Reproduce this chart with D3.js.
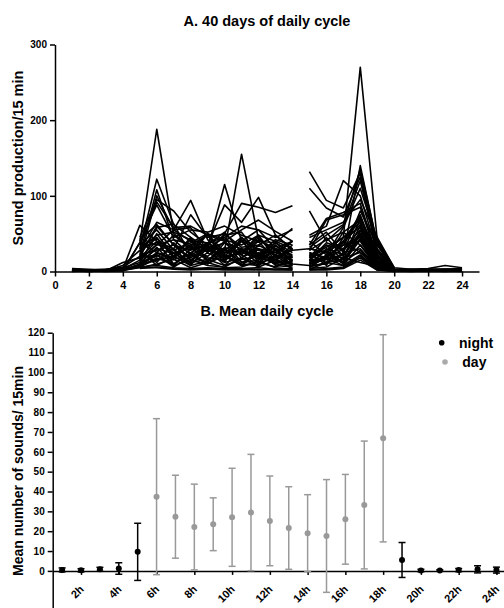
<!DOCTYPE html>
<html>
<head>
<meta charset="utf-8">
<script src="https://cdn.jsdelivr.net/npm/d3@7.9.0/dist/d3.min.js"></script>
<style>
  body { margin: 0; background: #fff; }
  svg { display: block; font-family: "Liberation Sans", Arial, sans-serif; }
  .axis path, .axis line { stroke: #000; stroke-width: 1.5px; }
  .axis text { font-weight: bold; fill: #000; }
  .title, .ylabel, .legend text { font-weight: bold; fill: #000; }
</style>
</head>
<body>
<svg id="chart" width="504" height="608"></svg>
<script>
const _ = null;

// Panel A: sounds per 15 min, one row per recorded day, hours 1..24
const hours = d3.range(1, 25);
const dailyCounts = [
  [3, 2, 2, 1, 38, 188, 50, 32, 28, 20, 25, 18, 12, 10, 14, 20, 35, 72, 20, 3, 2, 2, 3, 4],
  [_, _, _, _, 30, 122, 62, 45, 30, 38, 30, 28, 22, 15, 22, 28, 45, 270, 42, 5, _, _, _, _],
  [_, _, _, _, 22, 108, 42, 36, 30, 115, 40, 30, 25, 18, 12, 16, 22, 140, 35, 4, _, _, _, _],
  [1, 1, 2, 3, 15, 100, 55, 94, 42, 28, 155, 42, 30, 22, 32, 48, 62, 135, 38, 2, 2, 3, 3, 2],
  [_, _, _, _, 45, 95, 80, 52, 35, 88, 65, 98, 48, 30, 132, 94, 84, 130, 28, 3, _, _, _, _],
  [2, 1, 1, 3, 61, 40, 30, 75, 45, 50, 90, 85, 78, 87, 110, 84, 72, 125, 22, 2, 1, 1, 2, 2],
  [_, _, _, _, 35, 92, 58, 60, 48, 40, 55, 68, 53, 40, 80, 40, 60, 120, 30, 4, _, _, _, _],
  [_, _, _, _, 40, 88, 45, 55, 52, 60, 48, 40, 38, 57, 48, 60, 120, 100, 25, 3, _, _, _, _],
  [4, 3, 2, 8, 28, 65, 55, 40, 38, 45, 60, 55, 45, 55, 35, 70, 78, 90, 20, 2, 3, 4, 8, 5],
  [_, _, _, _, 42, 62, 35, 28, 50, 42, 35, 48, 40, 30, 28, 68, 75, 85, 18, 1, _, _, _, _],
  [_, _, _, _, 20, 58, 63, 22, 50, 15, 40, 18, 38, 25, 30, 25, 40, 75, 15, 5, _, _, _, _],
  [1, 0, 1, 5, 12, 50, 20, 45, 12, 38, 22, 40, 15, 35, 20, 35, 15, 70, 12, 2, 1, 2, 2, 1],
  [_, _, _, _, 33, 45, 18, 35, 48, 20, 42, 12, 30, 12, 25, 8, 45, 65, 10, 3, _, _, _, _],
  [_, _, _, _, 25, 12, 38, 15, 30, 45, 18, 35, 22, 40, 18, 45, 20, 60, 14, 2, _, _, _, _],
  [2, 2, 1, 12, 18, 40, 10, 25, 38, 22, 8, 30, 15, 10, 15, 38, 30, 55, 10, 3, 2, 3, 2, 4],
  [_, _, _, _, 30, 38, 25, 8, 35, 12, 45, 20, 38, 20, 12, 18, 52, 35, 8, 2, _, _, _, _],
  [_, _, _, _, 15, 35, 42, 22, 10, 28, 25, 48, 18, 28, 30, 25, 10, 50, 12, 4, _, _, _, _],
  [0, 1, 1, 2, 10, 32, 8, 30, 20, 40, 12, 15, 28, 8, 8, 30, 22, 48, 8, 1, 1, 1, 1, 1],
  [_, _, _, _, 28, 8, 20, 42, 15, 32, 22, 8, 35, 14, 22, 12, 40, 25, 10, 2, _, _, _, _],
  [_, _, _, _, 22, 28, 35, 15, 30, 8, 28, 22, 10, 20, 10, 28, 12, 42, 8, 3, _, _, _, _],
  [3, 2, 3, 4, 8, 25, 18, 35, 18, 15, 30, 10, 20, 8, 12, 20, 35, 40, 6, 2, 3, 2, 3, 3],
  [_, _, _, _, 18, 22, 6, 20, 28, 20, 8, 25, 14, 30, 6, 22, 18, 12, 7, 1, _, _, _, _],
  [_, _, _, _, 12, 20, 30, 10, 25, 12, 18, 30, 8, 6, 15, 18, 8, 35, 5, 2, _, _, _, _],
  [1, 1, 0, 1, 6, 18, 10, 24, 10, 22, 10, 8, 22, 10, 8, 10, 25, 30, 5, 1, 0, 1, 0, 1],
  [_, _, _, _, 10, 15, 20, 8, 14, 30, 8, 12, 6, 15, 5, 20, 12, 28, 4, 2, _, _, _, _],
  [_, _, _, _, 8, 22, 8, 16, 8, 6, 18, 6, 15, 4, 4, 6, 18, 25, 4, 1, _, _, _, _],
  [2, 1, 2, 2, 5, 10, 16, 5, 12, 5, 6, 14, 5, 3, 3, 12, 8, 22, 3, 1, 1, 2, 1, 0],
  [_, _, _, _, 6, 8, 5, 4, 5, 4, 4, 5, 3, 4, 2, 4, 6, 20, 3, 0, _, _, _, _],
  [_, _, _, _, 4, 6, 4, 3, 4, 3, 3, 2, 3, 2, 3, 3, 5, 18, 2, 1, _, _, _, _],
  [_, _, _, _, 5, 5, 3, 2, 3, 2, 2, 3, 2, 2, 2, 2, 4, 15, 2, 0, _, _, _, _],
  [1, 1, 1, 1, 38, 25, 48, 30, 35, 52, 25, 45, 20, 30, 45, 55, 65, 95, 45, 5, 3, 3, 2, 2],
  [_, _, _, _, 44, 35, 55, 58, 28, 48, 52, 22, 42, 35, 40, 22, 58, 110, 40, 4, _, _, _, _],
  [_, _, _, _, 35, 55, 28, 38, 50, 25, 40, 55, 30, 40, 35, 52, 25, 80, 35, 3, _, _, _, _],
  [_, _, _, _, 30, 48, 52, 42, 25, 50, 32, 35, 48, 28, 28, 42, 52, 68, 28, 2, _, _, _, _],
  [2, 2, 3, 6, 20, 60, 35, 18, 32, 28, 45, 28, 25, 40, 25, 18, 38, 62, 22, 3, 2, 3, 3, 2],
  [_, _, _, _, 26, 44, 20, 35, 35, 18, 25, 42, 28, 15, 20, 32, 45, 58, 18, 2, _, _, _, _],
  [_, _, _, _, 16, 36, 28, 12, 38, 24, 30, 16, 35, 18, 18, 26, 12, 54, 15, 1, _, _, _, _],
  [_, _, _, _, 12, 30, 24, 32, 14, 30, 12, 22, 16, 30, 14, 35, 28, 50, 12, 2, _, _, _, _],
  [_, _, _, _, 9, 24, 16, 22, 32, 16, 28, 18, 14, 12, 10, 16, 30, 46, 10, 1, _, _, _, _],
  [1, 0, 1, 2, 7, 16, 24, 12, 16, 8, 16, 20, 10, 8, 6, 12, 16, 44, 8, 2, 1, 1, 2, 1]
];
// days whose recording runs on from 14h to 15h without a break
const bridgedDays = [16, 23];
const splitHour = 14;

// Panel B: mean (and SD) per hour
const meanCounts = [0.5, 0.3, 0.8, 1.2, 9.6, 37.4, 27.3, 22.1, 23.5, 27.0, 29.4, 25.2,
                    21.6, 19.0, 17.6, 26.0, 33.2, 66.8, 5.5, 0.2, 0.2, 0.4, 0.8, 0.4];
const sdCounts = [1.0, 0.8, 1.0, 2.9, 14.4, 39.3, 20.9, 21.6, 13.3, 24.7, 29.3, 22.6,
                  20.8, 19.4, 28.4, 22.6, 32.2, 52.2, 8.8, 0.6, 0.4, 0.8, 1.8, 1.5];
const dayHours = d3.range(6, 19); // 6h..18h are daylight
const hourTicks = d3.range(2, 25, 2);
const periods = ['night', 'day'];
const periodColors = { night: '#000', day: '#999' };

const svg = d3.select('#chart');

// ---------- Panel A ----------
const xA = d3.scaleLinear().domain([0, 25]).range([55, 479]);
const yA = d3.scaleLinear().domain([0, 300]).range([271.5, 44.5]);

svg.append('text').attr('class', 'title')
    .attr('x', 267).attr('y', 26).attr('text-anchor', 'middle')
    .style('font-size', '14.5px').text('A. 40 days of daily cycle');

const line = d3.line()
    .defined(d => d.v !== null)
    .x(d => xA(d.h))
    .y(d => yA(d.v));

const gLines = svg.append('g')
    .attr('fill', 'none').attr('stroke', '#000')
    .attr('stroke-width', 1.6).attr('stroke-linejoin', 'round');

dailyCounts.forEach((counts, i) => {
    const pts = counts.map((v, j) => ({ h: hours[j], v: v }));
    if (bridgedDays.includes(i)) {
        gLines.append('path').attr('d', line(pts));
    } else {
        gLines.append('path').attr('d', line(pts.filter(p => p.h <= splitHour)));
        gLines.append('path').attr('d', line(pts.filter(p => p.h > splitHour)));
    }
});

svg.append('g').attr('class', 'axis')
    .attr('transform', `translate(0,${yA(0)})`)
    .call(d3.axisBottom(xA).tickValues(d3.range(0, 25, 2)).tickSize(5).tickSizeOuter(0))
    .selectAll('text').style('font-size', '11px').attr('dy', '0.9em');

svg.append('g').attr('class', 'axis')
    .attr('transform', `translate(${xA(0)},0)`)
    .call(d3.axisLeft(yA).tickValues([0, 100, 200, 300]).tickSize(5).tickSizeOuter(0))
    .selectAll('text').style('font-size', '10px');

svg.append('text').attr('class', 'ylabel')
    .attr('transform', `translate(23,${(yA(0) + yA(300)) / 2}) rotate(-90)`)
    .attr('text-anchor', 'middle').style('font-size', '14.5px')
    .text('Sound production/15 min');

// ---------- Panel B ----------
const xB = d3.scaleLinear().domain([0.5, 24.4]).range([52.7, 504]);
const yB = d3.scaleLinear().domain([-20, 120]).range([610.6, 332.7]);

svg.append('text').attr('class', 'title')
    .attr('x', 267).attr('y', 316).attr('text-anchor', 'middle')
    .style('font-size', '14.5px').text('B. Mean daily cycle');

svg.append('g').attr('class', 'axis')
    .attr('transform', `translate(${xB(0.5)},0)`)
    .call(d3.axisLeft(yB).tickValues(d3.range(0, 121, 10)).tickSize(5).tickSizeOuter(0))
    .selectAll('text').style('font-size', '10px');

const xAxisB = svg.append('g').attr('class', 'axis')
    .attr('transform', `translate(0,${yB(0)})`)
    .call(d3.axisBottom(xB).tickValues(hourTicks).tickFormat(d => d + 'h')
        .tickSize(4).tickSizeOuter(0));
xAxisB.selectAll('text')
    .style('font-size', '11px')
    .attr('text-anchor', 'end')
    .attr('y', 0).attr('dy', 0)
    .attr('transform', 'translate(3,19) rotate(-45)');

svg.append('text').attr('class', 'ylabel')
    .attr('transform', `translate(23,471) rotate(-90)`)
    .attr('text-anchor', 'middle').style('font-size', '14px')
    .text('Mean number of sounds/ 15min');

const stats = hours.map((h, i) => ({
    h: h,
    mean: meanCounts[i],
    sd: sdCounts[i],
    period: dayHours.includes(h) ? 'day' : 'night'
}));

const bars = svg.append('g').selectAll('g').data(stats).enter().append('g')
    .attr('stroke', d => periodColors[d.period])
    .attr('stroke-width', 1.5);

bars.append('line')
    .attr('x1', d => xB(d.h)).attr('x2', d => xB(d.h))
    .attr('y1', d => yB(d.mean - d.sd)).attr('y2', d => yB(d.mean + d.sd));
bars.append('line')
    .attr('x1', d => xB(d.h) - 3.5).attr('x2', d => xB(d.h) + 3.5)
    .attr('y1', d => yB(d.mean + d.sd)).attr('y2', d => yB(d.mean + d.sd));
bars.append('line')
    .attr('x1', d => xB(d.h) - 3.5).attr('x2', d => xB(d.h) + 3.5)
    .attr('y1', d => yB(d.mean - d.sd)).attr('y2', d => yB(d.mean - d.sd));
bars.append('circle')
    .attr('cx', d => xB(d.h)).attr('cy', d => yB(d.mean)).attr('r', 3)
    .attr('stroke', 'none')
    .attr('fill', d => periodColors[d.period]);

// Legend
const legend = svg.append('g').attr('class', 'legend');
periods.forEach((p, i) => {
    const row = legend.append('g').attr('transform', `translate(${441.7 + i * 3.3},${342.7 + i * 19.3})`);
    row.append('circle').attr('r', 2.8).attr('fill', p === 'day' ? '#aaa' : '#000');
    row.append('text').attr('x', 17.3).attr('y', 5).style('font-size', '14px').text(p);
});
</script>
</body>
</html>
